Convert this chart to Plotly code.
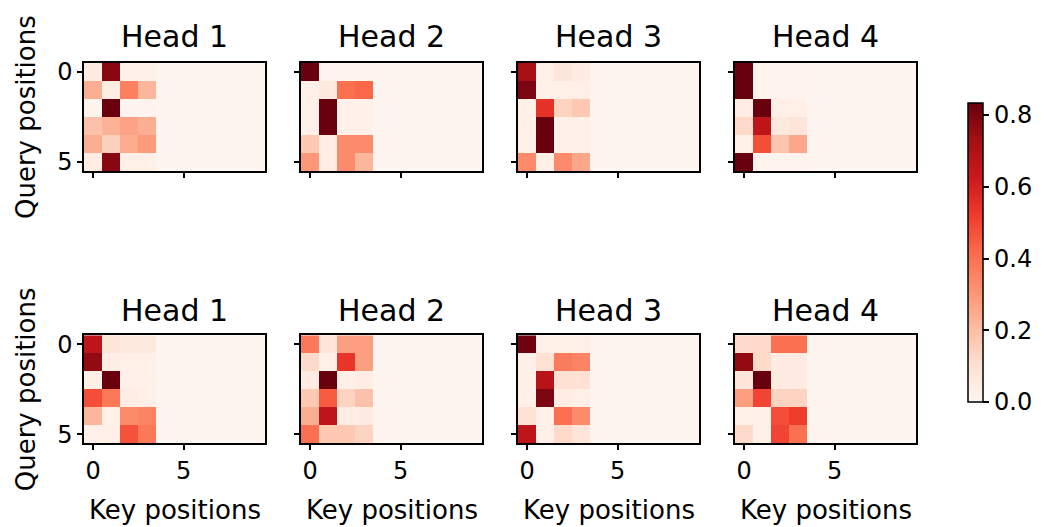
import plotly.graph_objects as go

# attention weights per head, only the first 4 keys are valid (the rest are masked to 0)
KEYS = list(range(10))
QUERIES = list(range(6))
HEAD_NAMES = ["Head 1", "Head 2", "Head 3", "Head 4"]
CBAR_TICKS = [0.0, 0.2, 0.4, 0.6, 0.8]
Z_MAX = 0.833

TOP_HEAD_1 = [
    [0.05, 0.78, 0.02, 0.02],
    [0.24, 0.04, 0.36, 0.22],
    [0.01, 0.83, 0.01, 0.01],
    [0.19, 0.23, 0.27, 0.24],
    [0.24, 0.15, 0.25, 0.29],
    [0.04, 0.78, 0.03, 0.03],
]
TOP_HEAD_2 = [
    [0.83, 0.01, 0.01, 0.01],
    [0.02, 0.06, 0.40, 0.42],
    [0.02, 0.83, 0.02, 0.02],
    [0.02, 0.83, 0.02, 0.02],
    [0.17, 0.04, 0.33, 0.33],
    [0.30, 0.04, 0.33, 0.22],
]
TOP_HEAD_3 = [
    [0.72, 0.03, 0.08, 0.05],
    [0.80, 0.03, 0.03, 0.03],
    [0.03, 0.55, 0.14, 0.17],
    [0.03, 0.83, 0.02, 0.02],
    [0.02, 0.83, 0.02, 0.02],
    [0.33, 0.03, 0.33, 0.26],
]
TOP_HEAD_4 = [
    [0.83, 0.01, 0.01, 0.01],
    [0.83, 0.01, 0.01, 0.01],
    [0.04, 0.83, 0.03, 0.03],
    [0.12, 0.66, 0.06, 0.08],
    [0.03, 0.48, 0.18, 0.26],
    [0.83, 0.01, 0.01, 0.01],
]
BOTTOM_HEAD_1 = [
    [0.66, 0.08, 0.06, 0.06],
    [0.76, 0.04, 0.03, 0.03],
    [0.03, 0.83, 0.02, 0.02],
    [0.48, 0.38, 0.04, 0.03],
    [0.22, 0.03, 0.33, 0.35],
    [0.02, 0.03, 0.47, 0.38],
]
BOTTOM_HEAD_2 = [
    [0.38, 0.08, 0.28, 0.28],
    [0.12, 0.03, 0.54, 0.28],
    [0.05, 0.83, 0.03, 0.04],
    [0.17, 0.45, 0.14, 0.19],
    [0.24, 0.66, 0.04, 0.05],
    [0.40, 0.17, 0.17, 0.14],
]
BOTTOM_HEAD_3 = [
    [0.82, 0.03, 0.03, 0.03],
    [0.03, 0.10, 0.37, 0.35],
    [0.03, 0.68, 0.10, 0.10],
    [0.03, 0.80, 0.04, 0.03],
    [0.10, 0.03, 0.40, 0.33],
    [0.66, 0.03, 0.12, 0.08],
]
BOTTOM_HEAD_4 = [
    [0.12, 0.12, 0.40, 0.40],
    [0.76, 0.12, 0.05, 0.05],
    [0.08, 0.83, 0.05, 0.05],
    [0.28, 0.50, 0.14, 0.14],
    [0.03, 0.02, 0.48, 0.52],
    [0.12, 0.02, 0.50, 0.40],
]

PANELS = [
    [TOP_HEAD_1, TOP_HEAD_2, TOP_HEAD_3, TOP_HEAD_4],
    [BOTTOM_HEAD_1, BOTTOM_HEAD_2, BOTTOM_HEAD_3, BOTTOM_HEAD_4],
]

REDS = [
    "#fff5f0", "#fee0d2", "#fcbba1", "#fc9272", "#fb6a4a",
    "#ef3b2c", "#cb181d", "#a50f15", "#67000d",
]

W, H = 1047, 527
FONT = "DejaVu Sans"
TICK_SIZE = 24
LABEL_SIZE = 26
TITLE_SIZE = 30


def px_x(x):
    return x / W


def px_y(y):
    return 1 - y / H


def pad_masked(rows):
    # keys 4..9 are masked out and read as 0 in the picture
    return [list(r) + [0.0] * (len(KEYS) - len(r)) for r in rows]


fig = go.Figure()
layout = {}
annotations = []

row_tops = [60, 337]
panel_h = 110
panel_w = 181
col_lefts = [84, 301, 518, 735]

axis_style = dict(
    showline=True,
    mirror=True,
    linecolor="black",
    linewidth=1.5,
    ticks="outside",
    ticklen=5,
    tickwidth=1.5,
    tickcolor="black",
    showgrid=False,
    zeroline=False,
    tickfont=dict(size=TICK_SIZE, color="black", family=FONT),
)

for r, row_panels in enumerate(PANELS):
    for c, data in enumerate(row_panels):
        idx = r * 4 + c + 1
        sfx = "" if idx == 1 else str(idx)
        fig.add_trace(
            go.Heatmap(
                z=pad_masked(data),
                x=KEYS,
                y=QUERIES,
                coloraxis="coloraxis",
                xaxis=f"x{sfx}",
                yaxis=f"y{sfx}",
            )
        )
        x0, x1 = col_lefts[c], col_lefts[c] + panel_w
        y0, y1 = row_tops[r], row_tops[r] + panel_h
        layout[f"xaxis{sfx}"] = dict(
            domain=[px_x(x0), px_x(x1)],
            anchor=f"y{sfx}",
            range=[-0.5, 9.5],
            tickvals=[0, 5],
            showticklabels=(r == 1),
            **axis_style,
        )
        layout[f"yaxis{sfx}"] = dict(
            domain=[px_y(y1), px_y(y0)],
            anchor=f"x{sfx}",
            range=[5.5, -0.5],
            tickvals=[0, 5],
            showticklabels=(c == 0),
            **axis_style,
        )
        annotations.append(
            dict(
                text=HEAD_NAMES[c],
                x=px_x((x0 + x1) / 2),
                y=px_y(y0 - 25 if r == 1 else y0 - 27),
                xref="paper",
                yref="paper",
                showarrow=False,
                xanchor="center",
                yanchor="middle",
                font=dict(size=TITLE_SIZE, color="black", family=FONT),
            )
        )
        if r == 1:
            annotations.append(
                dict(
                    text="Key positions",
                    x=px_x((x0 + x1) / 2),
                    y=px_y(515),
                    xref="paper",
                    yref="paper",
                    showarrow=False,
                    xanchor="center",
                    yanchor="middle",
                    font=dict(size=LABEL_SIZE, color="black", family=FONT),
                )
            )
    annotations.append(
        dict(
            text="Query positions",
            x=px_x(26),
            y=px_y(row_tops[r] + panel_h / 2),
            xref="paper",
            yref="paper",
            showarrow=False,
            textangle=-90,
            xanchor="center",
            yanchor="middle",
            font=dict(size=LABEL_SIZE, color="black", family=FONT),
        )
    )

fig.update_layout(
    **layout,
    annotations=annotations,
    coloraxis=dict(
        colorscale=REDS,
        cmin=0,
        cmax=Z_MAX,
        colorbar=dict(
            x=px_x(968),
            xanchor="left",
            y=px_y(405),
            yanchor="bottom",
            len=(405 - 101) / H,
            lenmode="fraction",
            thickness=15,
            outlinecolor="black",
            outlinewidth=1.5,
            ticks="outside",
            ticklen=6,
            tickwidth=1.5,
            tickcolor="black",
            tickvals=CBAR_TICKS,
            tickformat=".1f",
            tickfont=dict(size=TICK_SIZE, color="black", family=FONT),
            xpad=0,
            ypad=0,
        ),
    ),
    width=W,
    height=H,
    margin=dict(l=0, r=0, t=0, b=0),
    paper_bgcolor="white",
    plot_bgcolor="white",
    font=dict(family=FONT, color="black"),
)

# drop the page's default body margin so the figure sits at the window origin
fig.write_html(
    "out.html",
    config={"displayModeBar": False},
    post_script="document.body.style.margin = '0';",
)
